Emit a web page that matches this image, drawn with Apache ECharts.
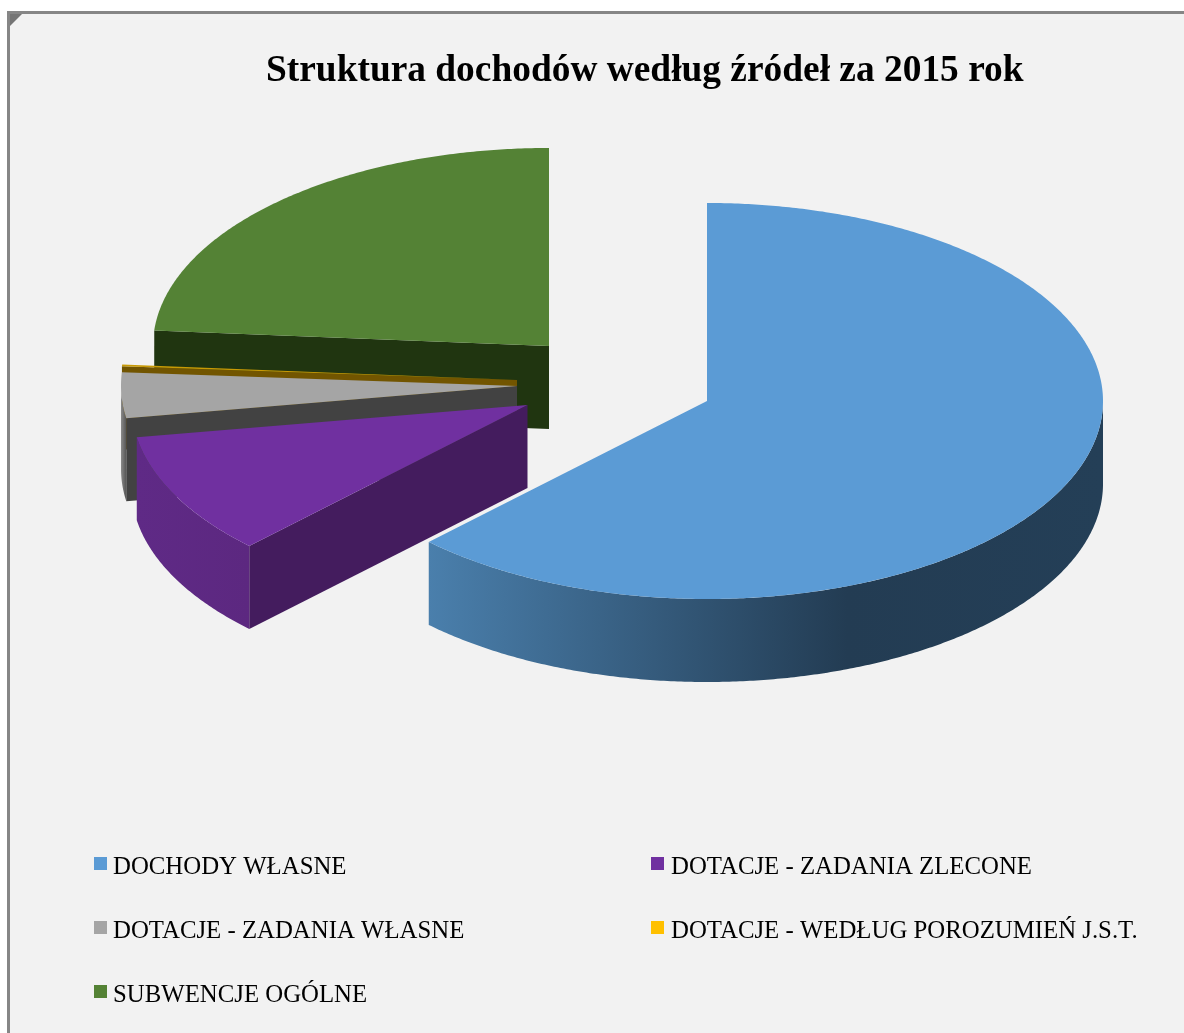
<!DOCTYPE html>
<html>
<head>
<meta charset="utf-8">
<script src="https://cdn.jsdelivr.net/npm/echarts@6/dist/echarts.min.js"></script>
<style>
  html, body { margin: 0; padding: 0; background: #fff; }
  #chart { width: 1184px; height: 1033px; }
</style>
</head>
<body>
<div id="chart"></div>
<script>
const categories = ['DOCHODY WŁASNE', 'DOTACJE - ZADANIA ZLECONE', 'DOTACJE - ZADANIA WŁASNE', 'DOTACJE - WEDŁUG POROZUMIEŃ J.S.T.', 'SUBWENCJE OGÓLNE'];
const shares = [62.4, 10.0, 3.7, 0.15, 23.75];

// look of the slices, same order as categories
const legendColors = ['#5b9bd5', '#7030a0', '#a5a5a5', '#ffc000', '#548235'];
const topColors = ['#5b9bd5', '#7030a0', '#a5a5a5', '#c89a05', '#548235'];
const cutColors = ['#233c53', '#441c5e', '#424242', '#725500', '#203510'];
const rimStops = [
    [[0, '#4a7fac'], [0.62, '#233c53'], [1, '#243f57']],
    [[0, '#5f2a86'], [1, '#5c2880']],
    [[0, '#8a8a8a'], [1, '#555555']],
    [[0, '#725500'], [1, '#725500']],
    [[0, '#203510'], [1, '#203510']]
];
// exploded slices: where each tip sits on the page
const tipX = [707, 527.5, 517, 517, 549];
const tipY = [401, 405, 386, 380, 346];
const drawOrder = [5, 4, 3, 2, 1];

const radiusX = 396;
const radiusY = 198;
const depth = 83;

const total = shares.reduce((a, b) => a + b, 0);

function sliceAngles(idx) {
    let before = 0;
    for (let i = 0; i < idx; i++) before += shares[i];
    return [before / total * 360, (before + shares[idx]) / total * 360];
}

// angle is clockwise from 12 o'clock
function rimPoint(idx, deg, drop) {
    let r = deg * Math.PI / 180;
    return [tipX[idx] + radiusX * Math.sin(r), tipY[idx] - radiusY * Math.cos(r) + drop];
}

function rimPoints(idx, from, to, drop) {
    let pts = [];
    let n = Math.max(2, Math.ceil((to - from) * 2));
    for (let i = 0; i <= n; i++) {
        pts.push(rimPoint(idx, from + (to - from) * i / n, drop));
    }
    return pts;
}

function cutFace(idx, deg) {
    let tip = [tipX[idx], tipY[idx]];
    let edge = rimPoint(idx, deg, 0);
    return {
        type: 'polygon',
        silent: true,
        shape: { points: [tip, edge, [edge[0], edge[1] + depth], [tip[0], tip[1] + depth]] },
        style: { fill: cutColors[idx] }
    };
}

function renderSlice(idx) {
    let angles = sliceAngles(idx);
    let a1 = angles[0];
    let a2 = angles[1];
    let children = [];

    // side cuts, only the ones facing the viewer
    if (Math.sin(a1 * Math.PI / 180) < -0.001) children.push(cutFace(idx, a1));
    if (Math.sin(a2 * Math.PI / 180) > 0.001) children.push(cutFace(idx, a2));

    // outer wall, front half only
    let from = Math.max(a1, 90);
    let to = Math.min(a2, 270);
    if (to > from) {
        let pts = rimPoints(idx, from, to, 0).concat(rimPoints(idx, from, to, depth).reverse());
        children.push({
            type: 'polygon',
            silent: true,
            shape: { points: pts },
            style: {
                fill: new echarts.graphic.LinearGradient(0, 0, 1, 0,
                    rimStops[idx].map(s => ({ offset: s[0], color: s[1] })))
            }
        });
    }

    // top face
    children.push({
        type: 'polygon',
        silent: true,
        shape: { points: [[tipX[idx], tipY[idx]]].concat(rimPoints(idx, a1, a2, 0)) },
        style: { fill: topColors[idx] }
    });

    return { type: 'group', children: children };
}

let chart = echarts.init(document.getElementById('chart'));

const legendLeft = [94, 651, 94, 651, 94];
const legendTop = [855, 855, 919, 919, 983];

chart.setOption({
    animation: false,
    backgroundColor: '#ffffff',
    title: {
        text: 'Struktura dochodów według źródeł za 2015 rok',
        left: 261,
        top: 48,
        textStyle: { fontFamily: 'Liberation Serif', fontSize: 37.4, fontWeight: 'bold', color: '#000000' }
    },
    graphic: [
        {
            type: 'rect',
            z: 0,
            silent: true,
            shape: { x: 8.5, y: 12.5, width: 1300, height: 1040 },
            style: { fill: '#f2f2f2', stroke: '#868686', lineWidth: 3 }
        },
        {
            type: 'polygon',
            z: 0,
            silent: true,
            shape: { points: [[10, 14], [22, 14], [10, 26]] },
            style: { fill: '#757575' }
        }
    ],
    legend: categories.map((name, i) => ({
        data: [name],
        left: legendLeft[i],
        top: legendTop[i],
        padding: 0,
        selectedMode: false,
        icon: 'rect',
        itemWidth: 13,
        itemHeight: 13,
        formatter: '{t|{name}}',
        textStyle: {
            rich: {
                t: {
                    fontFamily: 'Liberation Serif',
                    fontSize: 24.8,
                    color: '#000000',
                    padding: [8, 0, 0, i % 2 ? 2 : 1]
                }
            }
        }
    })),
    series: categories.map((name, i) => ({
        type: 'custom',
        name: name,
        coordinateSystem: 'none',
        z: drawOrder[i],
        itemStyle: { color: legendColors[i] },
        data: [shares[i]],
        renderItem: function () { return renderSlice(i); }
    }))
});
</script>
</body>
</html>
